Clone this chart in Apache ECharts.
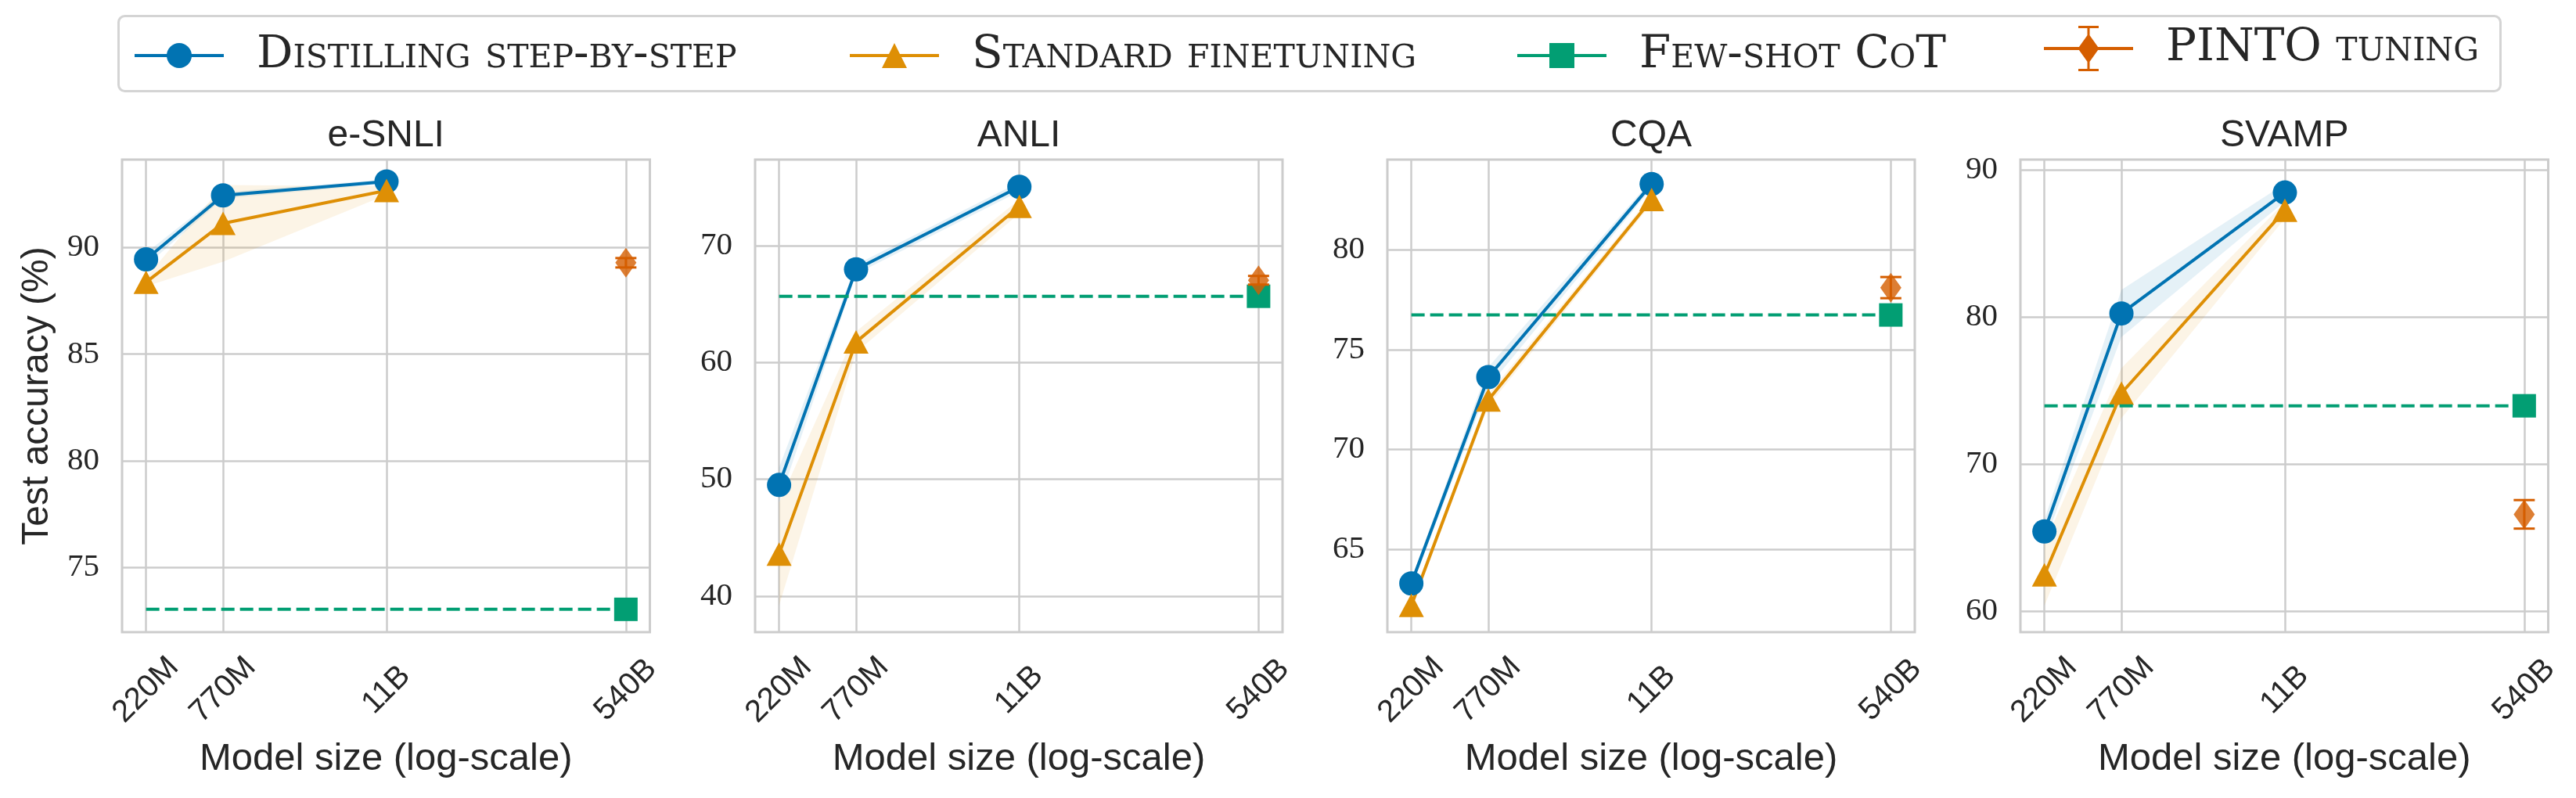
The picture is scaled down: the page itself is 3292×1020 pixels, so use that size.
<!DOCTYPE html>
<html><head><meta charset="utf-8">
<script src="https://cdn.jsdelivr.net/npm/echarts@6/dist/echarts.min.js"></script>
<style>html,body{margin:0;padding:0;background:#fff}#c{width:3292px;height:1020px}</style>
</head><body><div id="c"></div>
<script>
// ---------------- data ----------------
const datasets = ['e-SNLI', 'ANLI', 'CQA', 'SVAMP'];
const seriesNames = ['Distilling step-by-step', 'Standard finetuning', 'Few-shot CoT', 'PINTO tuning'];
const modelSizes = [220e6, 770e6, 11e9];          // T5 sizes
const teacherSize = 540e9;                          // PaLM 540B
const xTickValues = [220e6, 770e6, 11e9, 540e9];
const xTickLabels = ['220M', '770M', '11B', '540B'];

const distillMean = [
  [89.45, 92.45, 93.10],
  [49.52, 67.96, 75.02],
  [63.30, 73.63, 83.30],
  [65.45, 80.27, 88.49]
];
const distillStd = [
  [0.30, 0.15, 0.10],
  [1.50, 0.40, 0.40],
  [0.20, 0.50, 0.20],
  [0.80, 1.60, 0.60]
];
const standardMean = [
  [88.38, 91.14, 92.68],
  [43.60, 61.75, 73.35],
  [62.20, 72.48, 82.52],
  [62.50, 74.85, 87.28]
];
const standardStd = [
  [0.20, 1.80, 0.20],
  [4.40, 0.90, 0.60],
  [0.20, 0.30, 0.20],
  [2.10, 1.70, 0.55]
];
const fewShotCoT = [73.03, 65.66, 76.74, 73.99];
const pintoMean = [89.29, 67.03, 78.11, 66.61];
const pintoErr = [0.22, 0.37, 0.53, 0.97];

const yMin = [71.96, 36.93, 60.86, 58.60];
const yMax = [94.13, 77.35, 84.52, 90.73];
const yTicks = [[75, 80, 85, 90], [40, 50, 60, 70], [65, 70, 75, 80], [60, 70, 80, 90]];

// ---------------- style / layout ----------------
const colors = ['#0173b2', '#de8f05', '#029e73', '#d55e00'];
const textColor = '#262626';
const gridColor = '#cccccc';
const gridLeft = [156, 965, 1773, 2582];
const gridWidth = [674.5, 674, 674, 674.5];
const gridTop = 204, gridHeight = 604;
const sansFont = 'Liberation Sans';
const serifFont = 'Liberation Serif';

// matplotlib-like 5% margin in log space
const lgMin = Math.log10(xTickValues[0]), lgMax = Math.log10(xTickValues[xTickValues.length - 1]);
const lgPad = 0.05 * (lgMax - lgMin);
const xMin = Math.pow(10, lgMin - lgPad), xMax = Math.pow(10, lgMax + lgPad);

function nearestTick(v) {
  let best = 0, bd = Infinity;
  xTickValues.forEach((t, i) => { const d = Math.abs(Math.log10(t) - Math.log10(v)); if (d < bd) { bd = d; best = i; } });
  return xTickLabels[best];
}

function bandSeries(i, mean, std, color, name) {
  const row = [];
  modelSizes.forEach((x, k) => { row.push(x, mean[k] - std[k], mean[k] + std[k]); });
  return {type: 'custom', name: name, xAxisIndex: i, yAxisIndex: i, z: 1, silent: true,
    encode: {x: [0, 3, 6], y: [1, 2, 4, 5, 7, 8]},
    data: [row],
    renderItem: (params, api) => {
      const up = [], lo = [];
      for (let k = 0; k < modelSizes.length; k++) {
        up.push(api.coord([api.value(3 * k), api.value(3 * k + 2)]));
        lo.push(api.coord([api.value(3 * k), api.value(3 * k + 1)]));
      }
      return {type: 'polygon', shape: {points: up.concat(lo.reverse())},
        style: {fill: color, opacity: 0.1, stroke: null}};
    }};
}

const grids = [], xAxes = [], yAxes = [], titles = [], series = [];
for (let i = 0; i < datasets.length; i++) {
  grids.push({left: gridLeft[i], top: gridTop, width: gridWidth[i], height: gridHeight,
    show: true, borderColor: gridColor, borderWidth: 3, backgroundColor: 'transparent'});
  titles.push({text: datasets[i], left: gridLeft[i] + gridWidth[i] / 2, top: 150, textAlign: 'center',
    textVerticalAlign: 'top', padding: 0,
    textStyle: {fontFamily: sansFont, fontSize: 48, fontWeight: 'normal', color: textColor}});
  xAxes.push({type: 'log', logBase: 10, gridIndex: i, min: xMin, max: xMax,
    name: 'Model size (log-scale)', nameLocation: 'middle', nameGap: 138,
    nameTextStyle: {fontFamily: sansFont, fontSize: 49, color: textColor},
    axisLine: {show: false},
    axisTick: {show: false, customValues: xTickValues},
    minorTick: {show: false}, minorSplitLine: {show: false}, splitArea: {show: false},
    axisLabel: {customValues: xTickValues, rotate: 45, align: 'center', verticalAlign: 'middle', margin: 74,
      fontFamily: sansFont, fontSize: 40, color: textColor, formatter: v => nearestTick(v)},
    splitLine: {show: true, lineStyle: {color: gridColor, width: 2.5}}});
  yAxes.push({type: 'value', gridIndex: i, min: yMin[i], max: yMax[i],
    name: i === 0 ? 'Test accuracy (%)' : '', nameLocation: 'middle', nameGap: 84,
    nameTextStyle: {fontFamily: sansFont, fontSize: 48, color: textColor},
    axisLine: {show: false},
    axisTick: {show: false, customValues: yTicks[i]},
    splitArea: {show: false},
    axisLabel: {customValues: yTicks[i], margin: 29, fontFamily: serifFont, fontSize: 41, color: textColor},
    splitLine: {show: true, lineStyle: {color: gridColor, width: 2.5}}});

  series.push(bandSeries(i, distillMean[i], distillStd[i], colors[0], 'bandD' + i));
  series.push(bandSeries(i, standardMean[i], standardStd[i], colors[1], 'bandS' + i));

  series.push({type: 'line', name: seriesNames[0], xAxisIndex: i, yAxisIndex: i, z: 3,
    symbol: 'circle', symbolSize: 31, color: colors[0],
    lineStyle: {width: 4, color: colors[0]}, itemStyle: {color: colors[0]},
    data: modelSizes.map((x, k) => [x, distillMean[i][k]])});
  series.push({type: 'line', name: seriesNames[1], xAxisIndex: i, yAxisIndex: i, z: 3,
    symbol: 'triangle', symbolSize: [32, 30], color: colors[1],
    lineStyle: {width: 4, color: colors[1]}, itemStyle: {color: colors[1]},
    data: modelSizes.map((x, k) => [x, standardMean[i][k]])});
  series.push({type: 'line', name: seriesNames[2], xAxisIndex: i, yAxisIndex: i, z: 4,
    symbol: 'rect', symbolSize: 30, color: colors[2],
    lineStyle: {width: 4, type: [17, 7], color: colors[2]}, itemStyle: {color: colors[2]},
    data: [{value: [xTickValues[0], fewShotCoT[i]], symbol: 'none'}, {value: [teacherSize, fewShotCoT[i]]}]});
  series.push({type: 'custom', name: seriesNames[3], xAxisIndex: i, yAxisIndex: i, z: 5,
    encode: {x: 0, y: 1}, color: colors[3],
    data: [[teacherSize, pintoMean[i], pintoErr[i]]],
    renderItem: (params, api) => {
      const x = api.value(0), y = api.value(1), e = api.value(2);
      const top = api.coord([x, y + e]), bot = api.coord([x, y - e]);
      const cw = 13.5;
      const st = {stroke: colors[3], lineWidth: 3, fill: null};
      return {type: 'group', children: [
        {type: 'line', shape: {x1: top[0], y1: top[1], x2: bot[0], y2: bot[1]}, style: st},
        {type: 'line', shape: {x1: top[0] - cw, y1: top[1], x2: top[0] + cw, y2: top[1]}, style: st},
        {type: 'line', shape: {x1: bot[0] - cw, y1: bot[1], x2: bot[0] + cw, y2: bot[1]}, style: st}
      ]};
    }});
  series.push({type: 'scatter', name: seriesNames[3], xAxisIndex: i, yAxisIndex: i, z: 6,
    symbol: 'diamond', symbolSize: [27, 38], itemStyle: {color: colors[3]},
    data: [[teacherSize, pintoMean[i]]]});
}

const legendText = {fontFamily: 'DejaVu Serif', fontStyle: 'small-caps', fontSize: 58, color: textColor,
  padding: [0, 0, 0, 37]};
const legendLeft = [170, 1084, 1937, 2612];
const pintoIcon = 'path://M0 27H114V31H0Z M57 10L70.5 29L57 48L43.5 29Z M55.5 0H58.5V58H55.5Z M44 0H70V3H44Z M44 55H70V58H44Z';
const legends = seriesNames.map((n, k) => ({
  left: legendLeft[k], top: k === 3 ? 33 : 42, padding: 0, itemWidth: 114,
  itemHeight: k === 3 ? 58 : 40, selectedMode: false, textStyle: legendText,
  lineStyle: {width: 4, type: 'solid'},
  data: [k === 3 ? {name: n, icon: pintoIcon, itemStyle: {color: colors[3]}} : {name: n}]
}));

const chart = echarts.init(document.getElementById('c'), null, {renderer: 'canvas'});
chart.setOption({
  animation: false,
  backgroundColor: '#ffffff',
  graphic: [{type: 'rect', left: 150, top: 19, z: 0,
    shape: {width: 3044, height: 96, r: 8}, style: {fill: '#ffffff', stroke: '#d4d4d4', lineWidth: 3}}],
  title: titles,
  legend: legends,
  grid: grids,
  xAxis: xAxes,
  yAxis: yAxes,
  series: series
});
</script></body></html>
